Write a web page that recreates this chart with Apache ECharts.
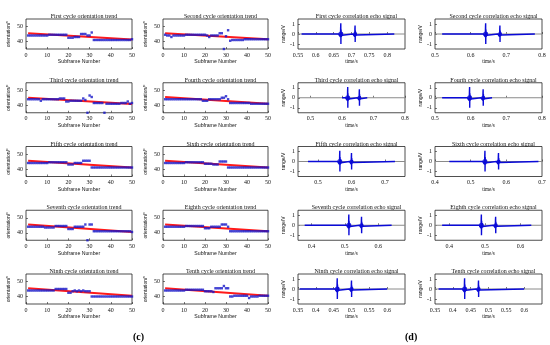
<!DOCTYPE html>
<html><head><meta charset="utf-8">
<script src="https://cdn.jsdelivr.net/npm/echarts@6/dist/echarts.min.js"></script>
<style>html,body{margin:0;padding:0;background:#fff}#c{width:550px;height:345px}</style>
</head><body><div id="c"></div><script>
const subframes = [1,2,3,4,5,6,7,8,9,10,11,12,13,14,15,16,17,18,19,20,21,22,23,24,25,26,27,28,29,30,31,32,33,34,35,36,37,38,39,40,41,42,43,44,45,46,47,48,49,50];
const trendTitles = ['First cycle orientation trend','Second cycle orientation trend','Third cycle orientation trend','Fourth cycle orientation trend','Fifth cycle orientation trend','Sixth cycle orientation trend','Seventh cycle orientation trend','Eighth cycle orientation trend','Ninth cycle orientation trend','Tenth cycle orientation trend'];
const echoTitles = ['First cycle correlation echo signal','Second cycle correlation echo signal','Third cycle correlation echo signal','Fourth cycle correlation echo signal','Fifth cycle correlation echo signal','Sixth cycle correlation echo signal','Seventh cycle correlation echo signal','Eighth cycle correlation echo signal','Ninth cycle correlation echo signal','Tenth cycle correlation echo signal'];

const orient1 = [44,44,44,44,44,44,44,44,44,44,44.5,44.5,44.5,44.5,44.5,44.5,44.5,44.5,44.5,42.5,42.5,42.5,43,43,43,45,45,45,44,44,46,41,41,41,41,41,41,41,41,41,41,41,41,41,41,41,41,41,41,41.5];
const orient2 = [44.5,44,44,43,44,44,44,44,44,44,44.5,44.5,44.5,44.5,44.5,44.5,44.5,44.5,44.5,44.5,44,43,44,44,44,44,45.5,45.5,35,43.5,47.5,40.5,41,41,41,41,41,41,41.5,41.5,41.5,41.5,41.5,41.5,41.5,41.5,41.5,41.5,41.5,41.5];
const orient3 = [44,44,44,44,44,44,43,44,44,44,44,44,44,44,44,44.5,44.5,44.5,42.5,42.5,43,43,43,43,43,43,44.5,43.5,35,46.5,45.5,41.5,41.5,41.5,41.5,41.5,35,41,41,41,41,41,41,41,41.5,41.5,41.5,42.5,41,41.5];
const orient4 = [44,44,44,44,44,44,44,44,44,44,44,44,44,44,44,44,44,44,43,43,43,44,44,44,44,44,44,45,45,46,44,41.5,41.5,41.5,41.5,41.5,41.5,41.5,41.5,41.5,41.5,41,41,41,41,41,41,41,41,41];
const orient5 = [44,44,44,44,44,44,44,44,44,44,44.5,44.5,44.5,44.5,44.5,44.5,44.5,44.5,44.5,43,43,43,44,44,44,44,45.5,45.5,45.5,45.5,41,41,41,41,41,41,41,41,41,41,41,41,41,41,41,41,41,41,41,41];
const orient6 = [44,44,44,44,44,44,44,44,44,44,44.5,44.5,44.5,44.5,44.5,44.5,44.5,44.5,44.5,43.5,43.5,43.5,43.5,43,43,43,45,45,45,45,41,41,41,41,41,41,41,41,41,41,41,41,41,41,41,41,41,41,41,41];
const orient7 = [44,44,44,44,44,44,44,44,43.5,43.5,43.5,43.5,43.5,44.5,44.5,44.5,44.5,44.5,44.5,42.5,42.5,42.5,44,44,44,44,44,45.5,35,45.5,45.5,41,41,41,41,41,41,41,41,41,41,41,41,41,41,41,41,41,41,40.5];
const orient8 = [44,44,44,44,44,44,44,44,44,44,44.5,44.5,44.5,44.5,44.5,44.5,44.5,44.5,44.5,43,43,43,44,44,44,44,44,45.5,45.5,45.5,44,41,41,41,41,41,41,41,41,41,41,41,41,41,41,41,41,41,41,41];
const orient9 = [44,44,44,44,44,44,44,44,44,44,44,44,44,45,45,45,45,45,45,42.5,42.5,43.5,44,43.5,44,43.5,44,43.5,43.5,43.5,40,40,40,40,40,40,40,40,40,40,40,40,40,40,40,40,40,40,40,40];
const orient10 = [44,44,44,44,44,44,44,44,44,44,44.5,44.5,44.5,44.5,44.5,44.5,44.5,44.5,44.5,43.5,43.5,43.5,43.5,43,45.5,45.5,45.5,45.5,47,45.5,45.5,40,40,40.5,40.5,40.5,40.5,40.5,40.5,40.5,39,40,40,40,40,40.5,40.5,40.5,40.5,40.5];
const orientData = [orient1,orient2,orient3,orient4,orient5,orient6,orient7,orient8,orient9,orient10];
const trendStart = [45.5,45.5,45,45.5,45.5,45.5,45.5,45.5,45.5,45.5];
const trendEnd   = [41.3,41.5,40.8,41,41,41,40.5,41,40.5,40.5];

const echoMin   = [0.55,0.5,0.46,0.5,0.44,0.4,0.36,0.36,0.35,0.35];
const echoMax   = [0.85,0.8,0.8,0.8,0.76,0.7,0.68,0.66,0.65,0.65];
const echoTicks = [[0.55,0.6,0.65,0.7,0.75,0.8],[0.5,0.6,0.7,0.8],[0.5,0.6,0.7,0.8],[0.5,0.6,0.7,0.8],[0.5,0.6,0.7],[0.4,0.5,0.6,0.7],[0.4,0.5,0.6],[0.4,0.5,0.6],[0.35,0.4,0.45,0.5,0.55,0.6],[0.35,0.4,0.45,0.5,0.55,0.6]];
const sigStart = [0.56,0.52,0.6,0.52,0.47,0.44,0.38,0.38,0.355,0.36];
const sigEnd   = [0.82,0.78,0.68,0.66,0.73,0.69,0.64,0.63,0.6,0.6];
const pulse1   = [0.67,0.642,0.618,0.597,0.565,0.54,0.512,0.49,0.46,0.433];
const pulse2   = [0.71,0.682,0.655,0.635,0.6,0.578,0.55,0.53,0.50,0.472];
const pulseDt   = [-0.006,-0.004,-0.003,-0.002,-0.001,-0.0004,0,0.0003,0.0008,0.0015,0.0025,0.0035,0.0045,0.006];
const pulseAmpA = [0,0.08,-0.12,0.2,-0.3,0.7,1.08,-1.0,0.45,-0.3,0.18,-0.12,0.06,0];
const pulseAmpB = [0,0.06,-0.1,0.15,-0.25,0.55,0.85,-0.8,0.35,-0.22,0.14,-0.1,0.05,0];

const rowTop = [19,82.75,146.5,210.25,274];
const colLeft = [26,163,298,435];
const colWidth = [106,105,107,107];
const boxH = 30;

const serif = 'Liberation Serif', sans = 'Liberation Sans';
const grids=[], xAxes=[], yAxes=[], series=[], titles=[];
let gi = 0;
for (let r=0;r<5;r++){
  for (let c=0;c<4;c++){
    const idx = r*2 + (c%2);
    grids.push({left:colLeft[c], top:rowTop[r], width:colWidth[c], height:boxH, show:true, borderColor:'#222', borderWidth:0.8, containLabel:false});
    titles.push({text: c<2?trendTitles[idx]:echoTitles[idx], left: colLeft[c]+colWidth[c]/2, top: rowTop[r]-10.5, textAlign:'center',
      textStyle:{fontSize:6,fontFamily:serif,fontWeight:'normal',color:'#111'}});
    const tickStyle = {inside:true,length:2,lineStyle:{color:'#222',width:0.6}};
    if (c<2){
      xAxes.push({gridIndex:gi,type:'value',min:0,max:50,interval:10,axisLine:{show:false},axisTick:tickStyle,splitLine:{show:false},
        axisLabel:{fontSize:6,fontFamily:serif,color:'#111',margin:3},
        name:'Subframe Number',nameLocation:'middle',nameGap:10.5,nameTextStyle:{fontSize:5.2,fontFamily:sans,color:'#111'}});
      yAxes.push({gridIndex:gi,type:'value',min:35,max:55,axisLine:{show:false},splitLine:{show:false},
        axisTick:Object.assign({customValues:[40,50]},tickStyle),
        axisLabel:{customValues:[40,50],fontSize:6,fontFamily:serif,color:'#111',margin:3},
        name:'orientation/°',nameLocation:'middle',nameGap:14.5,nameTextStyle:{fontSize:5,fontFamily:sans,color:'#111'}});
      series.push({type:'line',xAxisIndex:gi,yAxisIndex:gi,symbol:'none',lineStyle:{color:'#ff1a1a',width:2},
        data:[[subframes[0],trendStart[idx]],[subframes[49],trendEnd[idx]]],z:2});
      series.push({type:'scatter',xAxisIndex:gi,yAxisIndex:gi,symbol:'rect',symbolSize:2.4,itemStyle:{color:'#1515c8'},
        data: orientData[idx].map((v,i)=>[subframes[i],v]),z:3});
    } else {
      xAxes.push({gridIndex:gi,type:'value',min:echoMin[idx],max:echoMax[idx],axisLine:{show:false},splitLine:{show:false},
        axisTick:Object.assign({customValues:echoTicks[idx]},tickStyle),
        axisLabel:{customValues:echoTicks[idx],fontSize:6,fontFamily:serif,color:'#111',margin:3},
        name:'time/s',nameLocation:'middle',nameGap:10.5,nameTextStyle:{fontSize:5.2,fontFamily:serif,color:'#111'}});
      yAxes.push({gridIndex:gi,type:'value',min:-1.5,max:1.5,axisLine:{show:false},splitLine:{show:false},
        axisTick:Object.assign({customValues:[-1,0,1]},tickStyle),
        axisLabel:{customValues:[-1,0,1],fontSize:6,fontFamily:serif,color:'#111',margin:3},
        name:'range/V',nameLocation:'middle',nameGap:7,nameTextStyle:{fontSize:5,fontFamily:sans,color:'#111'}});
      series.push({type:'line',xAxisIndex:gi,yAxisIndex:gi,symbol:'none',lineStyle:{color:'#8a8a8a',width:1},
        data:[[echoMin[idx],0],[echoMax[idx],0]],z:1});
      const sig = [[sigStart[idx],0]];
      pulseDt.forEach((d,k)=>sig.push([pulse1[idx]+d,pulseAmpA[k]]));
      pulseDt.forEach((d,k)=>sig.push([pulse2[idx]+d,pulseAmpB[k]]));
      sig.push([sigEnd[idx],0]);
      series.push({type:'line',xAxisIndex:gi,yAxisIndex:gi,symbol:'none',lineStyle:{color:'#0a0ad8',width:1.4},data:sig,z:2});
      series.push({type:'scatter',xAxisIndex:gi,yAxisIndex:gi,symbol:'circle',itemStyle:{color:'#0a0ad8'},
        symbolSize:(v,p)=>p.dataIndex===0?5:4,data:[[pulse1[idx],0],[pulse2[idx],0]],z:3});
    }
    gi++;
  }
}
const chart = echarts.init(document.getElementById('c'),null,{renderer:'canvas'});
chart.setOption({animation:false,backgroundColor:'#fff',title:titles,grid:grids,xAxis:xAxes,yAxis:yAxes,series:series,
  graphic:[
    {type:'text',left:133,top:332,style:{text:'(c)',font:'bold 10px "Liberation Serif"',fill:'#000'}},
    {type:'text',left:405,top:332,style:{text:'(d)',font:'bold 10px "Liberation Serif"',fill:'#000'}}
  ]});
</script></body></html>
